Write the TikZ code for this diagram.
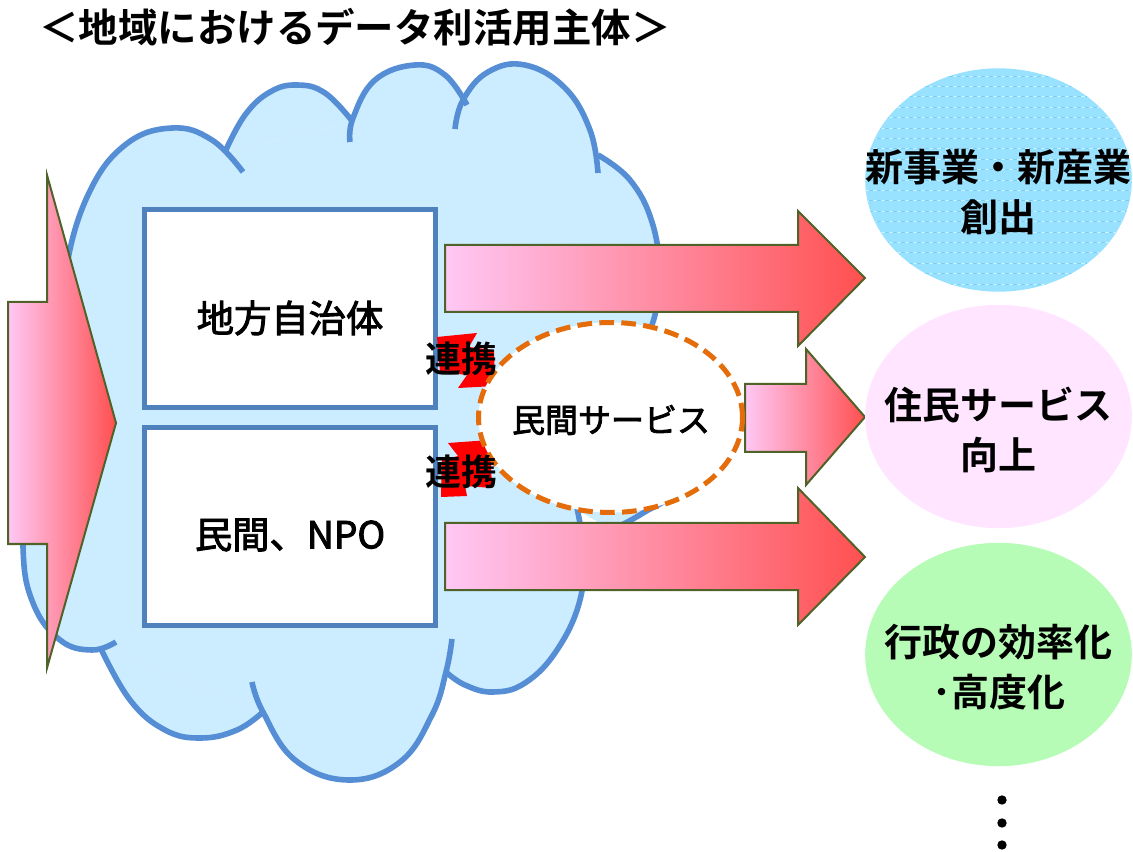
\documentclass[tikz,border=0pt]{standalone}
\usepackage{fontspec}
\setmainfont{Noto Sans CJK JP}[BoldFont={* Bold}]
\newfontfamily\jpmed{Noto Sans CJK JP}[FakeBold=2.5]
\usetikzlibrary{shapes.geometric}
\definecolor{cloudfill}{RGB}{204,236,255}
\definecolor{cloudline}{RGB}{85,142,213}
\definecolor{boxline}{RGB}{79,129,189}
\definecolor{arrline}{RGB}{79,98,40}
\definecolor{arrL}{RGB}{255,200,245}
\definecolor{arrR}{RGB}{255,80,80}
\definecolor{orangeline}{RGB}{228,108,10}
\definecolor{cyanfill}{RGB}{152,225,255}
\definecolor{cyanstripe}{RGB}{118,208,246}
\definecolor{cyandash}{RGB}{205,240,255}
\definecolor{pinkfill}{RGB}{255,229,255}
\definecolor{greenfill}{RGB}{182,252,182}
\definecolor{linkred}{RGB}{255,0,0}
\tikzset{
  cloudlobe/.style={draw=cloudline, line width=4.2pt},
  cloudpart/.style={fill=cloudfill},
  blockarrow/.style={left color=arrL, right color=arrR, draw=arrline, line width=1.5pt, line join=miter},
  entity/.style={draw=boxline, line width=3.9pt, fill=white, minimum width=218pt, minimum height=149pt, inner sep=0pt},
  boxtext/.style={font=\fontsize{28}{34}\jpmed},
  outcome/.style={ellipse, minimum width=200pt, minimum height=167.5pt, inner sep=0pt},
  outtext/.style={align=center, font=\fontsize{28.5}{37.5}\selectfont\bfseries},
  linkshape/.style={fill=linkred},
  linktext/.style={font=\fontsize{27}{30}\selectfont\bfseries},
  stripe/.style={draw=cyanstripe, line width=0.7pt},
  stripedash/.style={draw=cyandash, line width=0.45pt, dash pattern=on 2.5pt off 3.5pt},
}
\begin{document}
\begin{tikzpicture}[x=0.75pt,y=-0.75pt]
\useasboundingbox (0,0) rectangle (1133,852);

% title
\node[font=\fontsize{29.6}{36}\selectfont\bfseries] (title) at (355,27) {＜地域におけるデータ利活用主体＞};

% ---------- cloud ----------
\def\lobeA{(64,335) (66,270) (88,195) (125,145) (172,128) (212,140) (243,172)}
\def\lobeB{(225,152) (245,115) (270,92) (297,85) (325,93) (353,122)}
\def\lobeC{(350,142) (353,118) (375,80) (415,65) (445,75) (467,105)}
\def\lobeD{(455,129) (463,100) (488,72) (525,65) (565,88) (590,130) (598,173)}
\def\lobeE{(598,155) (630,180) (652,222) (660,275) (655,315) (645,340)}
\def\lobeF{(655,330) (685,380) (692,440) (675,490) (643,513) (612,530)}
\def\lobeG{(577,508) (583,550) (580,600) (557,650) (525,683) (493,692) (465,685) (446,672)}
\def\lobeH{(252,682) (263,712) (295,760) (348,780) (400,762) (432,715) (446,672) (452,639)}
\def\lobeI{(100,647) (130,700) (165,730) (201,738) (237,730) (263,712)}
\def\lobeJ{(70,320) (45,380) (28,460) (23,547) (33,603) (60,640) (92,650) (116,642)}
\foreach \lobe in {\lobeA,\lobeB,\lobeC,\lobeD,\lobeE,\lobeF,\lobeG,\lobeH,\lobeI,\lobeJ}{
  \fill[cloudpart] plot[smooth, tension=0.7] coordinates \lobe -- cycle;
}
\fill[cloudpart] (66,330) -- (225,152) -- (353,122) -- (463,100) -- (598,160) -- (655,315)
  -- (612,530) -- (577,510) -- (446,672) -- (263,712) -- (100,647) -- (60,640) -- cycle;
\foreach \lobe in {\lobeA,\lobeB,\lobeC,\lobeD,\lobeE,\lobeF,\lobeG,\lobeH,\lobeI,\lobeJ}{
  \draw[cloudlobe] plot[smooth, tension=0.7] coordinates \lobe;
}

% ---------- left input arrow ----------
\draw[blockarrow] (8,302) -- (47,302) -- (47,175) -- (116,423) -- (47,668) -- (47,544) -- (8,544) -- cycle;

% ---------- entity boxes ----------
\node[entity] (govt) at (290,308.5) {};
\node[boxtext] (govttext) at (290,318) {地方自治体};
\node[entity] (npo) at (290,526.5) {};
\node[boxtext] (npotext) at (290,535) {民間、NPO};

% ---------- output arrows ----------
\draw[blockarrow] (445,245) -- (798,245) -- (798,211) -- (865,278) -- (798,346) -- (798,312) -- (445,312) -- cycle;
\draw[blockarrow] (445,523) -- (798,523) -- (798,488) -- (865,557) -- (798,625) -- (798,590) -- (445,590) -- cycle;
\draw[blockarrow] (745,384) -- (806,384) -- (806,349) -- (865,417) -- (806,485) -- (806,452) -- (745,452) -- cycle;

% ---------- link bursts ----------
\fill[linkshape] (437,337) -- (477,333) -- (469,347) -- (494,350) -- (495,386) -- (458,388) -- (467,375) -- (440,372) -- cycle;
\fill[linkshape] (448,443) -- (490,440) -- (492,488) -- (465,486) -- (467,496) -- (441,497) -- (442,460) -- (458,456) -- cycle;

% ---------- private service ellipse ----------
\node[ellipse, draw=orangeline, fill=white, line width=3.75pt, dash pattern=on 11pt off 5.5pt,
      minimum width=198pt, minimum height=142.5pt, inner sep=0pt] (service) at (610.5,417.5) {};
\node[font=\fontsize{24.75}{30}\jpmed] (servicetext) at (611,420) {民間サービス};

\node[linktext] (link1) at (461,359) {連携};
\node[linktext] (link2) at (461,472) {連携};

% ---------- outcome ellipses ----------
\node[outcome, fill=cyanfill, path picture={
  \foreach \k in {-12,...,12}{
    \draw[stripe] ([yshift=\k*7.8pt]path picture bounding box.west) -- ([yshift=\k*7.8pt]path picture bounding box.east);
    \draw[stripedash] ([yshift=\k*7.8pt]path picture bounding box.west) -- ([yshift=\k*7.8pt]path picture bounding box.east);
  }}] (newbiz) at (998.5,180) {};
\node[outtext] (newbiztext) at (998.5,192.5) {新事業・新産業\\創出};

\node[outcome, fill=pinkfill] (resident) at (998.5,416.5) {};
\node[outtext] (residenttext) at (998.5,430) {住民サービス\\向上};

\node[outcome, fill=greenfill] (admin) at (998.5,654.5) {};
\node[outtext] (admintext) at (998.5,667) {行政の効率化\\･高度化};

% ---------- continuation dots ----------
\fill (1002,800) circle[radius=4.7];
\fill (1002,823) circle[radius=4.7];
\fill (1002,845) circle[radius=4.7];
\end{tikzpicture}
\end{document}
